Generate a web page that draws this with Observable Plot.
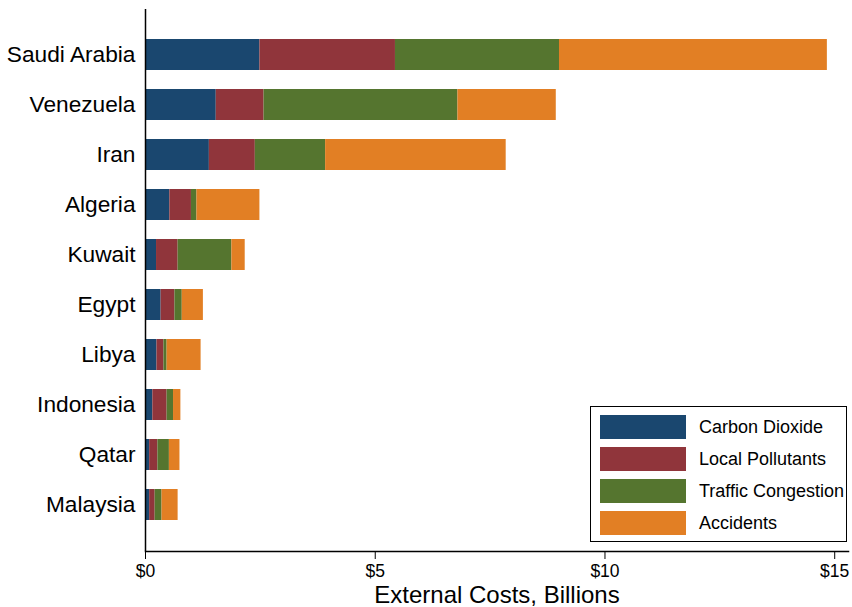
<!DOCTYPE html>
<html>
<head>
<meta charset="utf-8">
<script src="https://cdn.jsdelivr.net/npm/d3@7"></script>
<script src="https://cdn.jsdelivr.net/npm/@observablehq/plot@0.6"></script>
<style>
  html, body { margin: 0; padding: 0; background: #fff; }
  #wrap { position: relative; width: 852px; height: 607px; font-family: "Liberation Sans", Arial, Helvetica, sans-serif; }
  #legend { position: absolute; left: 590px; top: 406px; width: 255px; height: 134px; border: 1.5px solid #000; background: #fff; box-sizing: content-box; }
  .item { position: absolute; left: 9px; height: 24px; display: flex; align-items: center; }
  .sw { width: 86px; height: 24px; }
  .lab { margin-left: 13px; font-size: 18px; color: #000; white-space: nowrap; }
</style>
</head>
<body>
<div id="wrap"></div>
<script>
const countries = ["Saudi Arabia","Venezuela","Iran","Algeria","Kuwait","Egypt","Libya","Indonesia","Qatar","Malaysia"];
const series = ["Carbon Dioxide","Local Pollutants","Traffic Congestion","Accidents"];
const colors = ["#1a476f","#90353b","#55752f","#e27f24"];
const carbonDioxide    = [2.49, 1.54, 1.39, 0.53, 0.24, 0.34, 0.25, 0.16, 0.09, 0.09];
const localPollutants  = [2.95, 1.04, 1.00, 0.47, 0.47, 0.30, 0.15, 0.31, 0.18, 0.12];
const trafficCongestion= [3.57, 4.22, 1.53, 0.12, 1.17, 0.16, 0.07, 0.14, 0.25, 0.15];
const accidents        = [5.83, 2.14, 3.93, 1.37, 0.29, 0.46, 0.74, 0.16, 0.23, 0.35];
const xTicks = [0, 5, 10, 15];

const valuesBySeries = [carbonDioxide, localPollutants, trafficCongestion, accidents];
const data = [];
countries.forEach((c, i) => {
  series.forEach((s, j) => data.push({country: c, series: s, value: valuesBySeries[j][i]}));
});

const font = "Liberation Sans, Arial, Helvetica, sans-serif";
const chart = Plot.plot({
  width: 852,
  height: 607,
  marginLeft: 145,
  marginRight: 4,
  marginTop: 9,
  marginBottom: 56,
  style: {fontFamily: font, color: "#000", background: "#fff"},
  x: {domain: [0, 15.3]},
  y: {domain: countries, paddingInner: 0.376, paddingOuter: 0.554},
  color: {domain: series, range: colors},
  marks: [
    Plot.barX(data, Plot.stackX({x: "value", y: "country", fill: "series", order: series})),
    Plot.ruleX([0], {stroke: "#000", strokeWidth: 1.5}),
    Plot.frame({anchor: "bottom", stroke: "#000", strokeWidth: 1.5}),
    Plot.axisY({tickSize: 0, tickPadding: 10, fontSize: 22.7, label: null}),
    Plot.axisX({ticks: xTicks, tickFormat: d => "$" + d, tickSize: 8, tickPadding: 5, fontSize: 17.5, label: null, stroke: "#000"}),
    Plot.axisX({ticks: [], label: "External Costs, Billions", labelArrow: "none", labelAnchor: "center", labelOffset: 51.5, fontSize: 24})
  ]
});
const wrap = document.getElementById("wrap");
wrap.appendChild(chart);

const legend = document.createElement("div");
legend.id = "legend";
series.forEach((s, j) => {
  const item = document.createElement("div");
  item.className = "item";
  item.style.top = (8 + j * 32) + "px";
  const sw = document.createElement("div");
  sw.className = "sw";
  sw.style.background = colors[j];
  const lab = document.createElement("span");
  lab.className = "lab";
  lab.textContent = s;
  item.appendChild(sw);
  item.appendChild(lab);
  legend.appendChild(item);
});
wrap.appendChild(legend);
</script>
</body>
</html>
